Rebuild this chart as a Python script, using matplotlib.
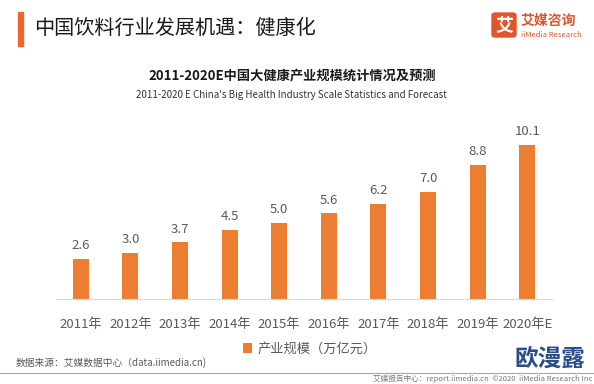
import matplotlib.pyplot as plt
from matplotlib.patches import FancyBboxPatch, Rectangle
from matplotlib.lines import Line2D

plt.rcParams['font.family'] = ['Noto Sans CJK SC', 'DejaVu Sans']

years = ['2011年', '2012年', '2013年', '2014年', '2015年',
         '2016年', '2017年', '2018年', '2019年', '2020年E']
scale = [2.6, 3.0, 3.7, 4.5, 5.0, 5.6, 6.2, 7.0, 8.8, 10.1]

orange = '#ED7D31'
grey = '#595959'

fig = plt.figure(figsize=(5.94, 3.84), dpi=100)
W, H = 594, 384

def fx(px):
    return px / W

def fy(py):
    return 1 - py / H

# header
fig.patches.append(Rectangle((fx(18), fy(46)), fx(5), 34 / H, transform=fig.transFigure,
                             color='#F0662E', zorder=3))
fig.text(fx(34), fy(28), '中国饮料行业发展机遇：健康化', fontsize=14.5, color='#1a1a1a',
         va='center', ha='left', fontweight='medium')

# logo
fig.patches.append(FancyBboxPatch((fx(492), fy(37)), fx(24), 24 / H,
                                  boxstyle='round,pad=0,rounding_size=0.006',
                                  transform=fig.transFigure, color='#E0552B'))
fig.text(fx(504), fy(25), '艾', fontsize=13, color='white', fontweight='bold',
         ha='center', va='center')
fig.text(fx(521), fy(21), '艾媒咨询', fontsize=10, color='#E0552B', fontweight='bold',
         ha='left', va='center')
fig.text(fx(521), fy(35), 'iiMedia Research', fontsize=5.5, color='#E0552B',
         ha='left', va='center')

# chart titles
fig.text(fx(292), fy(75), '2011-2020E中国大健康产业规模统计情况及预测', fontsize=9.5,
         fontweight='bold', color='#1a1a1a', ha='center', va='center')
fig.text(fx(291), fy(95), "2011-2020 E China's Big Health Industry Scale Statistics and Forecast",
         fontsize=7, color='#333333', ha='center', va='center')

ax = fig.add_axes([fx(56), fy(299), fx(552) - fx(56), (299 - 131) / H])
x = range(len(years))
bars = ax.bar(x, scale, width=0.32, color=orange, label='产业规模（万亿元）', zorder=2)
for xi, v in zip(x, scale):
    ax.annotate(f'{v:.1f}', (xi, v), xytext=(0, 5), textcoords='offset points',
                ha='center', va='bottom', fontsize=9.5, color=grey)

ax.set_xlim(-0.5, len(years) - 0.5)
ax.set_ylim(0, 11)
ax.set_xticks(list(x))
ax.set_xticklabels(years, fontsize=9.5, color=grey)
ax.tick_params(axis='x', length=0, pad=14)
ax.set_yticks([])
for s in ['top', 'right', 'left']:
    ax.spines[s].set_visible(False)
ax.spines['bottom'].set_color('#D9D9D9')
ax.spines['bottom'].set_linewidth(0.8)

leg = fig.legend(handles=[bars], labels=['产业规模（万亿元）'], loc='center',
                 bbox_to_anchor=(fx(310), fy(349)), frameon=False, fontsize=9.5,
                 handlelength=0.7, handleheight=0.7, handletextpad=0.4)
for t in leg.get_texts():
    t.set_color(grey)

# footer
fig.text(fx(16), fy(363), '数据来源：艾媒数据中心（data.iimedia.cn)', fontsize=7,
         color=grey, ha='left', va='center')
fig.lines.append(Line2D([0, 1], [fy(373), fy(373)], transform=fig.transFigure,
                        color='#A6A6A6', linewidth=0.8))
fig.text(fx(592), fy(379), '艾媒报告中心：report.iimedia.cn  ©2020  iiMedia Research Inc',
         fontsize=5.5, color='#777777', ha='right', va='center')
fig.text(fx(550), fy(359), '欧漫露', fontsize=17, fontweight='bold', color='#2B4C8C',
         ha='center', va='center')

fig.savefig('out.png', dpi=100)
